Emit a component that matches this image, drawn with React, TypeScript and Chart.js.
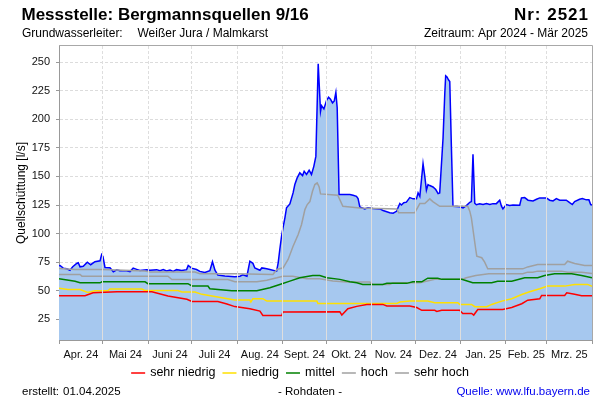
import React, { useEffect, useRef } from 'react';
import { Chart, registerables } from 'chart.js';

Chart.register(...registerables);

// ---- categories / ticks ----
const MONTH_LABELS = ['Apr. 24', 'Mai 24', 'Juni 24', 'Juli 24', 'Aug. 24', 'Sept. 24', 'Okt. 24', 'Nov. 24', 'Dez. 24', 'Jan. 25', 'Feb. 25', 'Mrz. 25'];
const MONTH_DAYS = [30, 31, 30, 31, 31, 30, 31, 30, 31, 31, 28, 31];
const Y_TICKS = [25, 50, 75, 100, 125, 150, 175, 200, 225, 250];
const Y_MIN = 7;
const Y_MAX = 264;

// ---- series: [day since 2024-04-01, l/s] ----
const MEASURED: [number, number][] = [
  [0, 72], [0.7, 72.1], [2.9, 69.8], [5.3, 69.3], [7.5, 68], [9.4, 71], [12.1, 73.9], [13.2, 74.5], [14.4, 71], [16.6, 71.5],
  [19.4, 75], [21.7, 72.8], [24.6, 75.4], [28.1, 76.2], [29.2, 81.7], [30.1, 80], [31.5, 70.4], [34.9, 70.1], [37.2, 66.6], [39.5, 68.4],
  [41.7, 67.5], [46.3, 67.5], [48.6, 66.8], [50.8, 69.8], [53.2, 68.7], [55.4, 67.7], [60, 68.5], [62.3, 68], [66.9, 68.5], [69.1, 67.5],
  [71.4, 68.5], [73.7, 67.3], [76, 68.2], [78.2, 67], [80.5, 68.5], [84, 67.7], [87.4, 68.5], [88.5, 72.1], [90.8, 69.8], [94.2, 68.6],
  [96.5, 67], [99.9, 66], [103.3, 67.5], [105.1, 75.4], [106.8, 68], [108.8, 63.7], [113.6, 63], [120.4, 62.3], [123.9, 62.8], [125.9, 64],
  [128.7, 62.8], [130.7, 75.9], [132.8, 74], [134.1, 70], [137.6, 68], [138.9, 70], [142.3, 69.3], [144.4, 68.7], [149, 67.2], [150.1, 74.5],
  [151.2, 86.1], [152.4, 97.7], [153.5, 105.9], [154.7, 113.8], [155.8, 122.5], [158.1, 126], [160.3, 135.6], [161.5, 142.9], [163.1, 148.7], [164.9, 153.1],
  [166.8, 150.7], [167.9, 154.5], [169.5, 151.7], [171.3, 155.4], [172.9, 151.7], [174.5, 158.8], [175.9, 167.5], [177.5, 248.5], [179.1, 206.8], [179.8, 211.8],
  [181.4, 209], [183.2, 216.4], [184.6, 219.3], [185.9, 217.5], [187.3, 214.2], [188.5, 216], [189.6, 223.4], [190.5, 210], [191.8, 134.1], [199.2, 134.1],
  [201.4, 133.5], [203.7, 132.6], [204.8, 130.6], [206, 123.4], [209.4, 121.6], [211.5, 122.5], [215.1, 122], [219.7, 121.6], [221.9, 120.2], [226.5, 118.2],
  [228.8, 117.8], [231.1, 119.5], [233.4, 126.3], [234.5, 125], [236.1, 127], [237.9, 127.5], [240.2, 131.5], [242.5, 130.4], [244.8, 130.4], [245.9, 135.6],
  [247.1, 132.6], [249.3, 161.2], [250.5, 150], [251.6, 137.9], [252.7, 142.8], [253.9, 142], [256.1, 140.8], [258, 138.5], [259.6, 135], [260.7, 135.6],
  [263, 183.6], [264.2, 222.9], [264.8, 238], [265.7, 237], [266.7, 234.5], [267.6, 233], [268.7, 176.3], [269.8, 123.9], [274.4, 123.4], [276.7, 122.5],
  [279, 124.5], [281.3, 127.4], [282.4, 128], [283.5, 169.4], [284.7, 126.6], [285.8, 125.2], [288.1, 126], [290.4, 125.5], [292.7, 126.2], [295, 125.5],
  [297.2, 126.2], [299.5, 126.2], [301.8, 129.2], [303, 124], [304, 121.6], [306.3, 125.4], [308.6, 124.5], [310.9, 125], [315.5, 124.8], [316.7, 131.2],
  [318.9, 131.5], [321.2, 129.2], [324.6, 128.6], [327, 130], [329.2, 131.2], [333.8, 131.2], [336, 129.2], [338.3, 128.6], [340.6, 130.6], [342.9, 129.2],
  [347.4, 129.2], [349.7, 127], [351.5, 125.4], [353.1, 128], [356.5, 130], [358.4, 130.6], [361.1, 129.5], [362.9, 129.5], [364.1, 125.4], [365, 125],
];

const SEHR_NIEDRIG: [number, number][] = [
  [0, 45.7], [17.8, 45.7], [23.3, 48.3], [39.7, 49.2], [63.6, 49.2], [74.6, 45.5], [87.6, 42.6], [91, 40.7], [108.8, 40.7], [115, 38.5],
  [120.4, 36.2], [130.7, 34.3], [137.6, 32.3], [139.6, 28.5], [152.6, 28.5], [153.3, 31.4], [192.3, 31.6], [193.7, 28.8], [197.8, 34.3], [203.9, 36.4],
  [210.8, 38.1], [221.7, 38.1], [224.5, 36.7], [240.2, 36.7], [245, 35.4], [248.4, 32.9], [257.3, 32.9], [258.7, 31.9], [262.1, 33], [274.4, 33],
  [276.5, 30.2], [282.6, 30.2], [284, 28.8], [286.8, 33.7], [303.9, 33.7], [310, 35.4], [316.9, 38.7], [321, 41.8], [329.2, 43], [330.5, 46],
  [346.3, 46], [347.7, 48.3], [353.1, 46.9], [357.9, 45.7], [365, 45.7],
];

const NIEDRIG: [number, number][] = [
  [0, 52.3], [6.2, 51.2], [14.4, 51.2], [19.8, 48.6], [24.6, 50], [33.5, 50], [34.9, 51.6], [56.8, 51.6], [58.9, 50.2], [81.4, 50.2],
  [84.2, 48.9], [93.1, 48.9], [97.9, 46.9], [111.6, 44], [120.4, 42], [130.7, 41.9], [131.4, 40.2], [132.8, 43.1], [139.6, 43.1], [142.3, 41],
  [176.6, 41], [177.3, 39], [231.3, 39], [233.4, 40.2], [240.2, 41], [252.5, 41], [257.3, 39.6], [273.1, 39.6], [274.4, 38.1], [282.6, 38.1],
  [284.7, 36.1], [292.9, 36.1], [296.3, 38.1], [303.2, 41], [310, 43.1], [316.9, 46.8], [322.3, 49.2], [329.2, 51.8], [334.6, 54.1], [346.3, 54.1],
  [353.1, 55.6], [362, 55.6], [365, 54],
];

const MITTEL: [number, number][] = [
  [0, 60.5], [11, 58.4], [14.4, 57], [28.1, 57], [29.4, 57.9], [58.9, 57.9], [60.9, 56.2], [88.3, 56.2], [91, 54.2], [102, 54.2],
  [103.3, 51.8], [118.4, 50.1], [135.5, 50.1], [144.4, 52.6], [151.2, 55.5], [158.1, 58.5], [164.9, 61.4], [173.8, 63.4], [178.6, 63.4], [183.4, 61.4],
  [192.3, 60], [199.2, 57.9], [203.9, 57], [208, 55.6], [221.7, 55.6], [224.5, 56.5], [238.2, 56.5], [242.3, 57.9], [248.4, 57.9], [252.5, 61],
  [259.4, 61], [262.1, 60], [275.8, 60], [283.3, 57], [296.3, 57], [300.4, 58.4], [310, 58.4], [318.9, 61.4], [327.8, 61.4], [332.6, 63.4],
  [339.4, 64.9], [351.1, 64.9], [357.9, 63.4], [365, 61.4],
];

const HOCH: [number, number][] = [
  [0, 64.3], [14.4, 64.3], [15.7, 62.8], [74.6, 62.8], [77.3, 59.9], [115.7, 59.9], [120.4, 57.9], [135.5, 57.9], [142.3, 59.3], [149.2, 61.4],
  [153.3, 62.8], [160.1, 62.8], [169.7, 60.5], [178.6, 60.5], [187.5, 58.5], [197.1, 57.6], [212.8, 57.6], [214.9, 55.6], [226.5, 55.6], [228.6, 57],
  [247.1, 57], [257.3, 60], [275.8, 60], [278.9, 61.4], [285.4, 63.4], [294.3, 64.9], [317.6, 64.9], [320.9, 66.3], [324.4, 66.3], [327.8, 67.2],
  [344.2, 67.2], [348.3, 66.3], [357.9, 66.3], [365, 65.2],
];

const SEHR_HOCH: [number, number][] = [
  [0, 69.5], [11, 68.6], [29.4, 68.6], [58.9, 67.3], [62.3, 66.5], [93.1, 66.5], [96.5, 64.9], [120.4, 64.9], [146.5, 64.3], [149.2, 68.7],
  [153.5, 70.1], [156.9, 77.4], [160.3, 89], [163.8, 99.2], [166.1, 108], [168.4, 121], [170, 125.4], [171.8, 128], [173.6, 137], [175.2, 142.9],
  [176.8, 144.3], [178.1, 141], [179.1, 134.7], [190.9, 133.5], [194.4, 123.9], [206, 122.4], [231.3, 121.6], [232.6, 118.2], [243.6, 118.2], [247.1, 126.3],
  [250.5, 126.3], [253.9, 130.4], [256, 128], [260.7, 123.9], [279.9, 123.9], [281.3, 119.6], [282.4, 113.8], [285.4, 86.1], [286.1, 80.3], [289.5, 78.9],
  [291.5, 75], [293.6, 69.2], [317.6, 69.2], [321, 70.9], [327.8, 73], [346.3, 73], [348.3, 75.9], [353.1, 73.9], [360, 72.2], [365, 72.2],
];

const LEGEND_ITEMS: { label: string; color: string }[] = [
  { label: 'sehr niedrig', color: '#FF0000' },
  { label: 'niedrig', color: '#FFE000' },
  { label: 'mittel', color: '#008000' },
  { label: 'hoch', color: '#A0A0A0' },
  { label: 'sehr hoch', color: '#A0A0A0' },
];

const FONT = '"Liberation Sans", Arial, Helvetica, sans-serif';

const BOUNDS: number[] = [0];
MONTH_DAYS.forEach((d, i) => BOUNDS.push(BOUNDS[i] + d));
const MIDS: number[] = MONTH_DAYS.map((d, i) => BOUNDS[i] + d / 2);
const TOTAL_DAYS = BOUNDS[BOUNDS.length - 1];

const toPts = (arr: [number, number][]) => arr.map(([x, y]) => ({ x, y }));

const isInnerBound = (v: number) => BOUNDS.includes(v) && v !== 0 && v !== TOTAL_DAYS;

const decorPlugin = {
  id: 'decor',
  afterDatasetsDraw(chart: any) {
    const { ctx, chartArea, scales } = chart;
    const { left, right, top, bottom } = chartArea;
    ctx.save();
    ctx.beginPath();
    ctx.rect(left, top, right - left, bottom - top);
    ctx.clip();
    ctx.globalCompositeOperation = 'source-atop';
    ctx.strokeStyle = '#DEDEDE';
    ctx.lineWidth = 1;
    BOUNDS.filter(isInnerBound).forEach((b) => {
      const px = Math.round(scales.x.getPixelForValue(b) - 0.5) + 0.5;
      ctx.beginPath();
      ctx.moveTo(px, top);
      ctx.lineTo(px, bottom);
      ctx.stroke();
    });
    ctx.restore();
  },
  afterDraw(chart: any) {
    const { ctx, chartArea } = chart;
    const { left, right, top, bottom } = chartArea;
    ctx.save();
    // top + right frame
    ctx.strokeStyle = '#A8A8A8';
    ctx.lineWidth = 1;
    ctx.beginPath();
    ctx.moveTo(left, Math.round(top) - 0.5);
    ctx.lineTo(Math.round(right) + 0.5, Math.round(top) - 0.5);
    ctx.lineTo(Math.round(right) + 0.5, bottom);
    ctx.stroke();

    // header
    ctx.fillStyle = '#000';
    ctx.textBaseline = 'alphabetic';
    ctx.font = `bold 17px ${FONT}`;
    ctx.textAlign = 'left';
    ctx.fillText('Messstelle: Bergmannsquellen 9/16', 21.5, 19.5);
    ctx.textAlign = 'right';
    if ('letterSpacing' in ctx) (ctx as any).letterSpacing = '1px';
    ctx.fillText('Nr: 2521', 589, 19.5);
    if ('letterSpacing' in ctx) (ctx as any).letterSpacing = '0px';
    ctx.font = `12px ${FONT}`;
    ctx.textAlign = 'left';
    ctx.fillText('Grundwasserleiter:', 22, 37);
    ctx.fillText('Weißer Jura / Malmkarst', 137.5, 37);
    ctx.textAlign = 'right';
    ctx.fillText('Zeitraum: Apr 2024 - Mär 2025', 588, 37);

    // y-axis title
    ctx.save();
    ctx.translate(21.5, (top + bottom) / 2);
    ctx.rotate(-Math.PI / 2);
    ctx.textAlign = 'center';
    ctx.textBaseline = 'middle';
    ctx.font = `12px ${FONT}`;
    ctx.fillText('Quellschüttung [l/s]', 0, 0);
    ctx.restore();

    // legend
    ctx.font = `12.5px ${FONT}`;
    ctx.textBaseline = 'middle';
    ctx.textAlign = 'left';
    const lineLen = 14;
    const gap = 5;
    const itemGap = 7;
    const widths = LEGEND_ITEMS.map((it) => lineLen + gap + ctx.measureText(it.label).width);
    const total = widths.reduce((a, b) => a + b, 0) + itemGap * (LEGEND_ITEMS.length - 1);
    let lx = 300 - total / 2;
    const ly = 373;
    LEGEND_ITEMS.forEach((it, i) => {
      ctx.strokeStyle = it.color;
      ctx.lineWidth = 1.5;
      ctx.beginPath();
      ctx.moveTo(lx, ly);
      ctx.lineTo(lx + lineLen, ly);
      ctx.stroke();
      ctx.fillStyle = '#000';
      ctx.fillText(it.label, lx + lineLen + gap, ly);
      lx += widths[i] + itemGap;
    });

    // footer
    ctx.font = `11.5px ${FONT}`;
    ctx.textBaseline = 'alphabetic';
    ctx.fillStyle = '#000';
    ctx.textAlign = 'left';
    ctx.fillText('erstellt:', 22, 395);
    ctx.fillText('01.04.2025', 63, 395);
    ctx.textAlign = 'center';
    ctx.fillText('- Rohdaten -', 310, 395);
    ctx.textAlign = 'right';
    ctx.fillStyle = '#0000EE';
    ctx.fillText('Quelle: www.lfu.bayern.de', 590, 395);
    ctx.restore();
  },
};

const lineDs = (label: string, data: [number, number][], color: string) => ({
  label,
  data: toPts(data),
  borderColor: color,
  borderWidth: 1.5,
  pointRadius: 0,
  tension: 0,
  fill: false,
  order: 1,
});

export default function App() {
  const ref = useRef<HTMLCanvasElement | null>(null);

  useEffect(() => {
    if (!ref.current) return;
    const chart = new Chart(ref.current, {
      type: 'line',
      data: {
        datasets: [
          {
            label: 'Messwerte',
            data: toPts(MEASURED),
            borderColor: '#0000FF',
            backgroundColor: '#A6C8EF',
            borderWidth: 1.5,
            pointRadius: 0,
            tension: 0,
            fill: 'start',
            order: 10,
          },
          lineDs('sehr niedrig', SEHR_NIEDRIG, '#FF0000'),
          lineDs('niedrig', NIEDRIG, '#FFE000'),
          lineDs('mittel', MITTEL, '#008000'),
          lineDs('hoch', HOCH, '#A0A0A0'),
          lineDs('sehr hoch', SEHR_HOCH, '#A0A0A0'),
        ],
      },
      options: {
        responsive: false,
        animation: false,
        events: [],
        layout: { padding: { top: 46, right: 8, bottom: 0, left: 0 } },
        plugins: {
          legend: { display: false },
          tooltip: { enabled: false },
          title: { display: false },
        },
        scales: {
          x: {
            type: 'linear',
            min: 0,
            max: TOTAL_DAYS,
            afterBuildTicks: (scale: any) => {
              const vals = [...BOUNDS, ...MIDS].sort((a, b) => a - b);
              scale.ticks = vals.map((v) => ({ value: v }));
            },
            afterFit: (scale: any) => {
              scale.height = 60;
              scale.paddingLeft = 0;
              scale.paddingRight = 0;
            },
            ticks: {
              autoSkip: false,
              maxRotation: 0,
              minRotation: 0,
              padding: 4,
              color: '#111',
              font: { family: FONT, size: 11 },
              callback: (value: any) => {
                const i = MIDS.indexOf(Number(value));
                return i >= 0 ? MONTH_LABELS[i] : '';
              },
            },
            grid: {
              color: (ctx: any) => (ctx.tick && isInnerBound(ctx.tick.value) ? '#DCDCDC' : 'rgba(0,0,0,0)'),
              tickColor: (ctx: any) => (ctx.tick && BOUNDS.includes(ctx.tick.value) ? '#999999' : 'rgba(0,0,0,0)'),
              tickLength: 4,
              lineWidth: 1,
            },
            border: { display: true, color: '#999999', width: 1, dash: [3, 2] },
          },
          y: {
            type: 'linear',
            min: Y_MIN,
            max: Y_MAX,
            afterBuildTicks: (scale: any) => {
              scale.ticks = Y_TICKS.map((v) => ({ value: v }));
            },
            afterFit: (scale: any) => {
              scale.width = 59;
            },
            ticks: {
              padding: 6,
              color: '#111',
              font: { family: FONT, size: 11 },
            },
            grid: {
              color: '#DCDCDC',
              tickColor: '#999999',
              tickLength: 3,
              lineWidth: 1,
            },
            border: { display: true, color: '#999999', width: 1, dash: [3, 2] },
          },
        },
      },
      plugins: [decorPlugin],
    } as any);
    return () => chart.destroy();
  }, []);

  return (
    <div style={{ position: 'absolute', left: 0, top: 0, width: 600, height: 400, background: '#fff' }}>
      <canvas ref={ref} width={600} height={400} style={{ display: 'block' }} />
    </div>
  );
}
